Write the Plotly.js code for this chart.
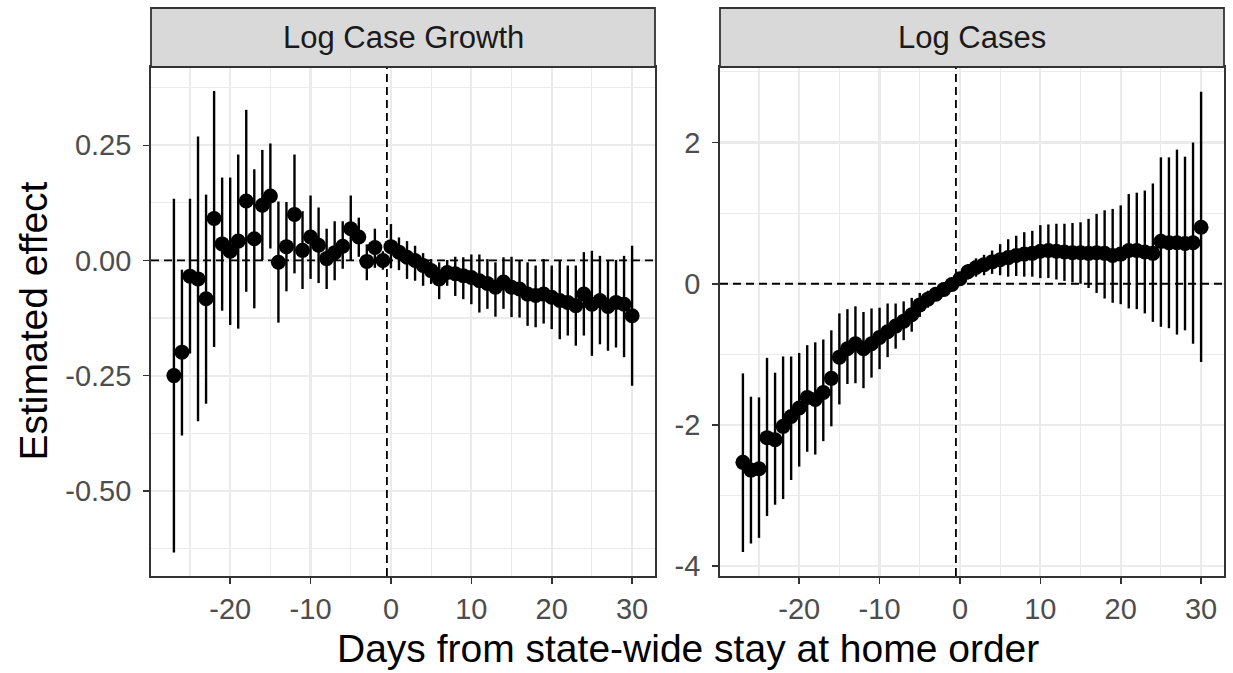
<!DOCTYPE html>
<html>
<head>
<meta charset="utf-8">
<script src="https://cdn.plot.ly/plotly-3.0.1.min.js"></script>
<style>html,body{margin:0;padding:0;background:#fff}#chart{width:1233px;height:673px}</style>
</head>
<body>
<div id="chart"></div>
<script>
// ---------- data ----------
const days = [-27,-26,-25,-24,-23,-22,-21,-20,-19,-18,-17,-16,-15,-14,-13,-12,-11,-10,-9,-8,-7,-6,-5,-4,-3,-2,-1,0,
  1,2,3,4,5,6,7,8,9,10,11,12,13,14,15,16,17,18,19,20,21,22,23,24,25,26,27,28,29,30];

const panelTitles = ["Log Case Growth", "Log Cases"];

// Panel 1: Log Case Growth
const growthEst = [-0.250,-0.199,-0.034,-0.040,-0.083,0.091,0.036,0.020,0.042,0.129,0.047,0.120,0.140,-0.004,0.030,0.100,0.022,0.051,0.033,0.004,0.017,0.031,0.069,0.051,-0.002,0.028,0.000,0.030,
  0.018,0.007,0.000,-0.011,-0.022,-0.040,-0.026,-0.029,-0.033,-0.037,-0.044,-0.050,-0.058,-0.047,-0.058,-0.062,-0.073,-0.076,-0.073,-0.080,-0.087,-0.091,-0.098,-0.073,-0.095,-0.087,-0.100,-0.091,-0.095,-0.120];
const growthLo = [-0.634,-0.380,-0.202,-0.349,-0.311,-0.188,-0.109,-0.140,-0.148,-0.068,-0.104,0.001,0.026,-0.135,-0.067,-0.028,-0.062,-0.040,-0.049,-0.062,-0.043,-0.018,-0.001,0.008,-0.043,-0.016,-0.020,-0.017,
  -0.021,-0.040,-0.044,-0.055,-0.051,-0.084,-0.055,-0.077,-0.084,-0.095,-0.113,-0.105,-0.122,-0.105,-0.123,-0.124,-0.142,-0.145,-0.137,-0.149,-0.171,-0.163,-0.185,-0.163,-0.207,-0.182,-0.196,-0.189,-0.210,-0.272];
const growthHi = [0.134,-0.020,0.134,0.269,0.143,0.368,0.180,0.180,0.230,0.327,0.198,0.240,0.254,0.128,0.127,0.230,0.107,0.141,0.115,0.069,0.085,0.085,0.141,0.093,0.035,0.069,0.020,0.079,
  0.050,0.042,0.032,0.016,0.003,-0.004,0.001,0.008,0.007,0.013,0.013,0.003,-0.004,0.007,0.008,0.001,-0.004,-0.011,0.003,-0.011,0.001,-0.011,-0.011,0.018,0.021,0.010,0.000,0.001,0.010,0.032];

// Panel 2: Log Cases
const casesEst = [-2.53,-2.64,-2.62,-2.18,-2.21,-2.02,-1.88,-1.76,-1.61,-1.64,-1.54,-1.34,-1.04,-0.92,-0.85,-0.92,-0.85,-0.76,-0.68,-0.60,-0.53,-0.44,-0.30,-0.22,-0.15,-0.08,-0.01,0.07,
  0.17,0.23,0.27,0.31,0.34,0.37,0.40,0.42,0.43,0.46,0.47,0.46,0.45,0.44,0.44,0.43,0.44,0.43,0.40,0.42,0.47,0.47,0.45,0.43,0.60,0.58,0.58,0.57,0.58,0.80];
const casesLo = [-3.80,-3.68,-3.60,-3.29,-3.13,-3.05,-2.78,-2.59,-2.38,-2.42,-2.23,-2.02,-1.71,-1.42,-1.41,-1.48,-1.33,-1.21,-1.04,-0.92,-0.80,-0.68,-0.47,-0.34,-0.23,-0.13,-0.04,0.04,
  0.06,0.10,0.12,0.14,0.12,0.10,0.11,0.10,0.10,0.08,0.08,0.06,0.04,0.02,0.00,-0.06,-0.13,-0.21,-0.27,-0.29,-0.35,-0.36,-0.42,-0.54,-0.61,-0.63,-0.72,-0.66,-0.85,-1.11];
const casesHi = [-1.27,-1.60,-1.61,-1.05,-1.26,-1.03,-1.03,-0.98,-0.87,-0.83,-0.79,-0.66,-0.42,-0.36,-0.32,-0.40,-0.35,-0.34,-0.28,-0.28,-0.25,-0.20,-0.13,-0.10,-0.07,-0.03,0.02,0.10,
  0.28,0.36,0.41,0.47,0.56,0.63,0.68,0.73,0.75,0.83,0.84,0.85,0.85,0.86,0.87,0.92,0.99,1.04,1.06,1.11,1.27,1.29,1.32,1.42,1.79,1.79,1.90,1.80,2.00,2.72];

const xTickVals = [-20,-10,0,10,20,30];
const xTickText = ["-20","-10","0","10","20","30"];
const y1TickVals = [-0.5,-0.25,0,0.25];
const y1TickText = ["-0.50","-0.25","0.00","0.25"];
const y2TickVals = [-4,-2,0,2];
const y2TickText = ["-4","-2","0","2"];

const xTitle = "Days from state-wide stay at home order";
const yTitle = "Estimated effect";

// ---------- helpers ----------
function pointTrace(x, y, lo, hi, xa, ya) {
  return {
    type: "scatter", mode: "markers", x: x, y: y, xaxis: xa, yaxis: ya,
    marker: {color: "#000000", size: 15},
    error_y: {
      type: "data", symmetric: false,
      array: hi.map((h, i) => h - y[i]),
      arrayminus: lo.map((l, i) => y[i] - l),
      color: "#000000", thickness: 2.4, width: 0
    },
    hoverinfo: "x+y", showlegend: false
  };
}

const W = 1233, H = 673;
const FONT = "Liberation Sans, Arial, Helvetica, sans-serif";
const panelLeft = [151, 720], panelW = 504, panelTop = 67, panelBot = 576, stripTop = 8;
const px = v => v / W, py = v => 1 - v / H;

const gridCol = "#ebebeb";
function xAxis(i, anchor) {
  return {
    domain: [px(panelLeft[i]), px(panelLeft[i] + panelW)], anchor: anchor,
    range: [-29.85, 32.85], tickmode: "array", tickvals: xTickVals, ticktext: xTickText,
    ticks: "outside", ticklen: 6, tickwidth: 1.6, tickcolor: "#333333",
    tickfont: {family: FONT, size: 29, color: "#4d4d4d"},
    showgrid: true, gridcolor: gridCol, gridwidth: 2.2,
    minor: {tickmode: "array", tickvals: [-25,-15,-5,5,15,25], showgrid: true, gridcolor: gridCol, gridwidth: 1.1, ticks: ""},
    showline: true, mirror: true, linecolor: "#333333", linewidth: 1.8, zeroline: false
  };
}
function yAxis(i, anchor, range, tv, tt, minorVals) {
  return {
    domain: [py(panelBot), py(panelTop)], anchor: anchor, range: range,
    tickmode: "array", tickvals: tv, ticktext: tt,
    ticks: "outside", ticklen: 6, tickwidth: 1.6, tickcolor: "#333333",
    tickfont: {family: FONT, size: 29, color: "#4d4d4d"}, ticklabelstandoff: 6,
    showgrid: true, gridcolor: gridCol, gridwidth: 2.2,
    minor: {tickmode: "array", tickvals: minorVals, showgrid: true, gridcolor: gridCol, gridwidth: 1.1, ticks: ""},
    showline: true, mirror: true, linecolor: "#333333", linewidth: 1.8, zeroline: false
  };
}

const dashStyle = {color: "#000000", width: 1.8, dash: "8px,5px"};
const shapes = [];
[["x", "y"], ["x2", "y2"]].forEach(([xa, ya], i) => {
  shapes.push({type: "line", xref: xa + " domain", yref: ya, x0: 0, x1: 1, y0: 0, y1: 0, line: dashStyle});
  shapes.push({type: "line", xref: xa, yref: ya + " domain", x0: -0.5, x1: -0.5, y0: 0, y1: 1, line: dashStyle});
  // strip
  shapes.push({type: "rect", xref: "paper", yref: "paper",
    x0: px(panelLeft[i]), x1: px(panelLeft[i] + panelW), y0: py(panelTop), y1: py(stripTop),
    fillcolor: "#d9d9d9", line: {color: "#333333", width: 1.8}});
});

const annotations = panelTitles.map((t, i) => ({
  text: t, xref: "paper", yref: "paper", showarrow: false,
  x: px(panelLeft[i] + panelW / 2), y: py((stripTop + panelTop) / 2), xanchor: "center", yanchor: "middle",
  font: {family: FONT, size: 31, color: "#1a1a1a"}
}));
annotations.push({text: xTitle, xref: "paper", yref: "paper", showarrow: false,
  x: px(panelLeft[0] + (panelLeft[1] + panelW - panelLeft[0]) / 2), y: py(648), xanchor: "center", yanchor: "middle",
  font: {family: FONT, size: 39, color: "#000000"}});
annotations.push({text: yTitle, xref: "paper", yref: "paper", showarrow: false, textangle: -90,
  x: px(33), y: py((panelTop + panelBot) / 2), xanchor: "center", yanchor: "middle",
  font: {family: FONT, size: 39, color: "#000000"}});

const data = [
  pointTrace(days, growthEst, growthLo, growthHi, "x", "y"),
  pointTrace(days, casesEst, casesLo, casesHi, "x2", "y2")
];

const layout = {
  width: W, height: H, margin: {l: 0, r: 0, t: 0, b: 0},
  paper_bgcolor: "#ffffff", plot_bgcolor: "#ffffff", showlegend: false,
  xaxis: xAxis(0, "y"), xaxis2: xAxis(1, "y2"),
  yaxis: yAxis(0, "x", [-0.685, 0.42], y1TickVals, y1TickText, [-0.625,-0.375,-0.125,0.125,0.375]),
  yaxis2: yAxis(1, "x2", [-4.14, 3.07], y2TickVals, y2TickText, [-3,-1,1,3]),
  shapes: shapes, annotations: annotations
};

Plotly.newPlot("chart", data, layout, {displayModeBar: false, staticPlot: true});
</script>
</body>
</html>
